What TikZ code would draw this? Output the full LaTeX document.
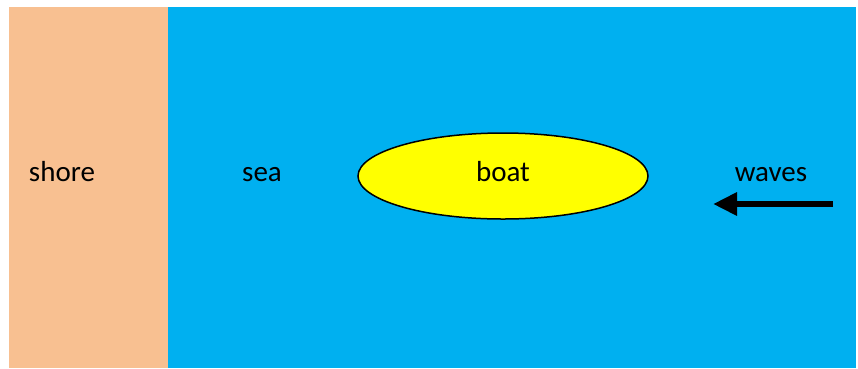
\documentclass[tikz,border=0pt]{standalone}
\usepackage{fontspec}
\setmainfont{Carlito}
\usepackage{tikz}
\usetikzlibrary{arrows.meta,shapes.geometric}

\definecolor{shorecol}{HTML}{F8C091}
\definecolor{seacol}{HTML}{00B0F0}
\definecolor{boatcol}{HTML}{FFFF00}

\begin{document}
\begin{tikzpicture}[
  x=1pt,y=-1pt,
  label/.style={font=\fontsize{29}{35}\selectfont,inner sep=0pt,anchor=base},
  boatshape/.style={ellipse,draw,line width=1.5pt,fill=boatcol,minimum width=290pt,minimum height=86pt,
    font=\fontsize{29}{35}\selectfont,text height=20pt,text depth=9pt},
  arrow/.style={-{Triangle[length=24pt,width=22pt]},line width=6pt}
]
\useasboundingbox (0,0) rectangle (858,368);
\fill[shorecol] (9,7) rectangle (168,368);
\fill[seacol] (168,7) rectangle (856,368);

\node[label] (shore) at (62,181) {shore};
\node[label] (sea) at (262,181) {sea};
\node[boatshape] (boat) at (503,176) {boat};
\node[label] (waves) at (771,181) {waves};

\coordinate (wavestart) at (833,204);
\coordinate (waveend) at (713,204);
\draw[arrow] (wavestart) -- (waveend);
\end{tikzpicture}
\end{document}
